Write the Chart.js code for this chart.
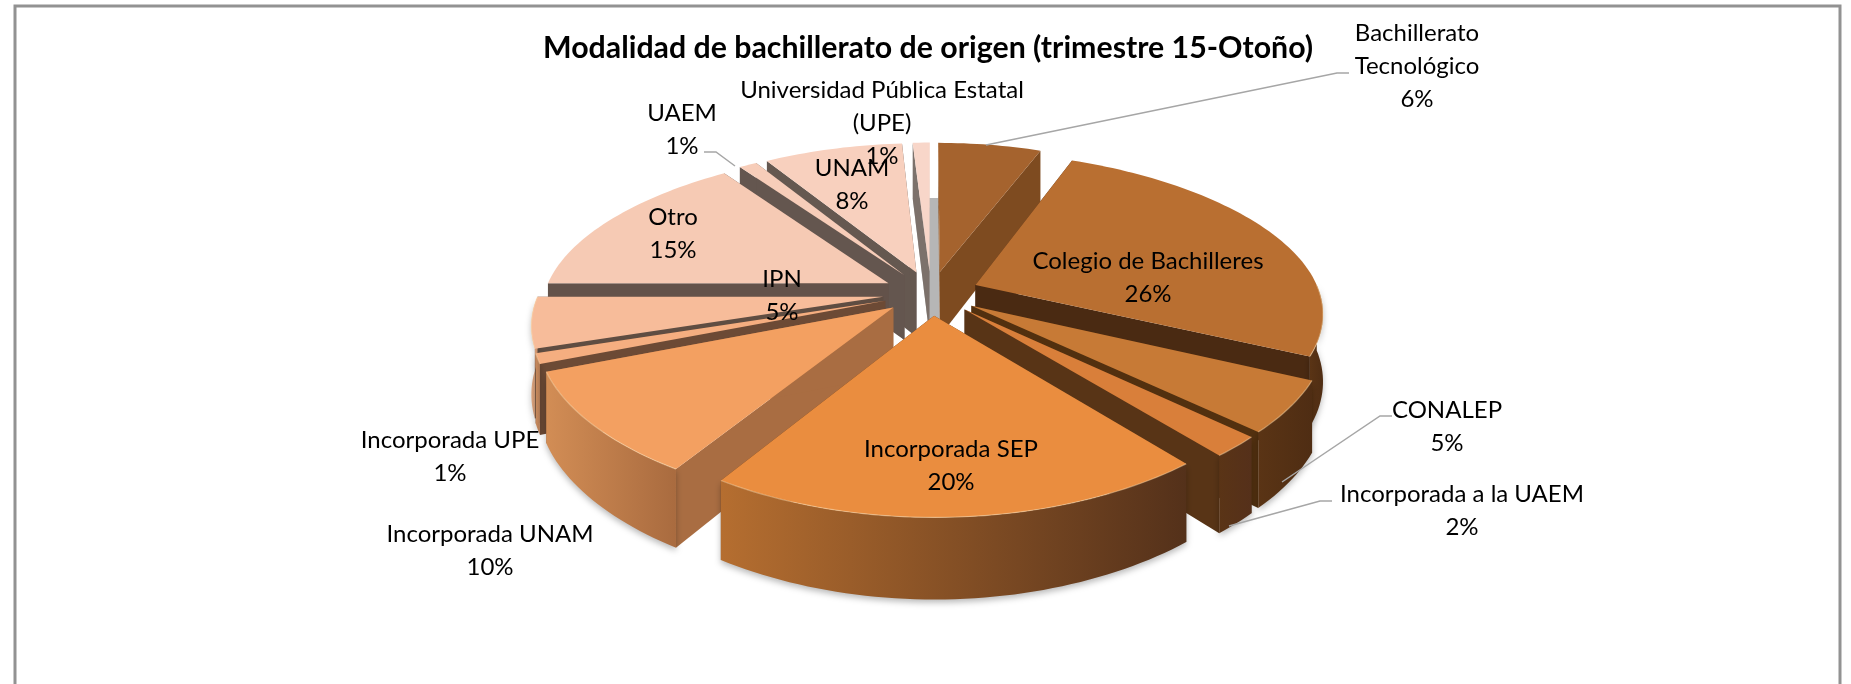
<!DOCTYPE html>
<html><head><meta charset="utf-8">
<style>html,body{margin:0;padding:0;background:#fff;overflow:hidden}#w{position:absolute;left:0;top:0;width:1851px;height:684px}</style>
<script src="https://cdn.jsdelivr.net/npm/chart.js@4"></script>
</head><body><div id="w"><canvas id="c" width="1851" height="684"></canvas></div>
<script>
const titleText = "Modalidad de bachillerato de origen (trimestre 15-Otoño)";
const categories = ["Bachillerato Tecnológico","Colegio de Bachilleres","CONALEP","Incorporada a la UAEM","Incorporada SEP","Incorporada UNAM","Incorporada UPE","IPN","Otro","UAEM","UNAM","Universidad Pública Estatal (UPE)"];
const values = [6,26,5,2,20,10,1,5,15,1,8,1];
const topColors = ["#A5632E","#B96F31","#C77A36","#D97F3A","#EA8D3F","#F3A061","#F5AE80","#F7BC9A","#F6CAB4","#F7CDB9","#F8D0BE","#F8D6C9"];
const wallColors = ["#7E4B20","#4A2A12","#52300F","#583416","#583416","#A96D42","#6C4A35","#5F4D42","#63524A","#64564F","#655850","#7C716B"];
const rimLight = ["#7E4B20","#5A3415","#5A3415","#5A3416","#B56E30","#D28D55","#C98A5C","#E2A983","#D9A98F","#C9A08A","#C9A08A","#C9A08A"];
const rimDark = ["#7E4B20","#4F2D13","#4F2D13","#55301A","#54311A","#A96B3F","#B07A55","#C9906B","#C9906B","#B98F7A","#B98F7A","#B98F7A"];

// Layout only: no data here
const wrapped = {"Bachillerato Tecnológico":["Bachillerato","Tecnológico"],"Universidad Pública Estatal (UPE)":["Universidad Pública Estatal","(UPE)"]};
const labelPos = [[1417,33],[1148,261],[1447,410],[1462,494],[951,449],[490,534],[450,440],[782,279],[673,217],[682,113],[852,168],[882,90]];
const labelStep = 33;
const leaders = [[[986,145],[1337,73],[1349,73]],[[1282,482],[1380,416],[1392,416]],[[1229,526],[1320,501],[1332,501]],[[704,152],[716,152],[735,166]]];
const EXPLODE=0.14, XS=1.525, YS=0.70, DEPTH=0.292, PERSP=0.1725, BULGE=0.04, CX_SHIFT=3;

const pie3d = {
  id:'pie3d',
  beforeDraw(chart){
    const c=chart.ctx; c.save(); c.fillStyle='#fff'; c.fillRect(0,0,1851,684);
    c.strokeStyle='#929292'; c.lineWidth=3; c.beginPath(); c.moveTo(15,684); c.lineTo(15,6); c.lineTo(1840,6); c.lineTo(1840,684); c.stroke(); c.restore();
  },
  beforeDatasetsDraw(chart){
    const c=chart.ctx, meta=chart.getDatasetMeta(0), arcs=meta.data;
    const cx=arcs[0].x+CX_SHIFT, cy=arcs[0].y, R=arcs[0].outerRadius;
    const A=XS*R,B=YS*R,H=DEPTH*R;
    const proj=(u,v,z)=>{const p=1/(1-PERSP*v);return [cx+A*u*p*(1-BULGE*v*v),cy+B*v*p+z*H*p];};
    const poly=(pts)=>{c.beginPath();pts.forEach((q,i)=>i?c.lineTo(q[0],q[1]):c.moveTo(q[0],q[1]));c.closePath();};
    const pt=(a,t,r,z)=>{const m=(a.startAngle+a.endAngle)/2;return proj(EXPLODE*Math.cos(m)+r*Math.cos(t),EXPLODE*Math.sin(m)+r*Math.sin(t),z);};
    const order=arcs.map((a,i)=>i).sort((i,j)=>Math.sin((arcs[i].startAngle+arcs[i].endAngle)/2)-Math.sin((arcs[j].startAngle+arcs[j].endAngle)/2));
    c.save();
    // soft grey shadow between the first and the last slice
    const first=arcs[0], last=arcs[arcs.length-1];
    c.fillStyle='#B6B6B6';
    poly([pt(last,last.startAngle,1,1),pt(first,first.startAngle,1,1),pt(first,first.startAngle,0,1),pt(last,last.startAngle,0,1)]); c.fill();
    for(const i of order){
      const a=arcs[i],s=a.startAngle,e=a.endAngle;
      const P=(t,r,z)=>pt(a,t,r,z);
      const arc=(t0,t1,z)=>{const n=Math.max(2,Math.ceil((t1-t0)*40)),o=[];for(let k=0;k<=n;k++)o.push(P(t0+(t1-t0)*k/n,1,z));return o;};
      c.fillStyle=wallColors[i];
      for(const t of [s,e]){ poly([P(t,0,0),P(t,1,0),P(t,1,1),P(t,0,1)]); c.fill(); }
      const t0=Math.max(s,0),t1=Math.min(e,Math.PI);
      if(t1>t0){
        const up=arc(t0,t1,0),dn=arc(t0,t1,1).reverse();
        const xs=up.map(q=>q[0]),x0=Math.min(...xs),x1=Math.max(...xs);
        const g=c.createLinearGradient(x0,0,x1,0); g.addColorStop(0,rimLight[i]); g.addColorStop(1,rimDark[i]);
        c.save(); c.shadowColor='rgba(0,0,0,0.28)'; c.shadowBlur=6; c.shadowOffsetY=3;
        c.fillStyle=g; poly(up.concat(dn)); c.fill(); c.restore();
      }
      c.fillStyle=topColors[i];
      poly([P(s,0,0)].concat(arc(s,e,0))); c.fill();
      if(t1>t0){ c.strokeStyle='rgba(255,225,180,0.45)'; c.lineWidth=1.2; c.beginPath(); arc(t0,t1,0).forEach((q,k)=>k?c.lineTo(q[0],q[1]):c.moveTo(q[0],q[1])); c.stroke(); }
    }
    c.restore();
    return false;
  },
  afterDraw(chart){
    const c=chart.ctx; c.save();
    c.strokeStyle='#A6A6A6'; c.lineWidth=1.5;
    for(const l of leaders){ c.beginPath(); l.forEach((q,k)=>k?c.lineTo(q[0],q[1]):c.moveTo(q[0],q[1])); c.stroke(); }
    c.fillStyle='#000'; c.textAlign='center'; c.textBaseline='middle'; c.font='24px Lato';
    categories.forEach((n,i)=>{
      const lines=(wrapped[n]||[n]).concat([values[i]+'%']);
      lines.forEach((t,k)=>c.fillText(t,labelPos[i][0],labelPos[i][1]+k*labelStep));
    });
    c.restore();
  }
};

new Chart(document.getElementById('c'),{
  type:'pie',
  data:{labels:categories,datasets:[{data:values,backgroundColor:topColors,borderWidth:0}]},
  options:{responsive:false,animation:false,
    layout:{padding:{left:5,right:0,top:0,bottom:165}},
    plugins:{legend:{display:false},tooltip:{enabled:false},
      title:{display:true,text:titleText,color:'#000',font:{family:'Lato',size:30.3,weight:'bold',lineHeight:1.2},padding:{top:30,bottom:1}}}},
  plugins:[pie3d]
});
</script></body></html>
